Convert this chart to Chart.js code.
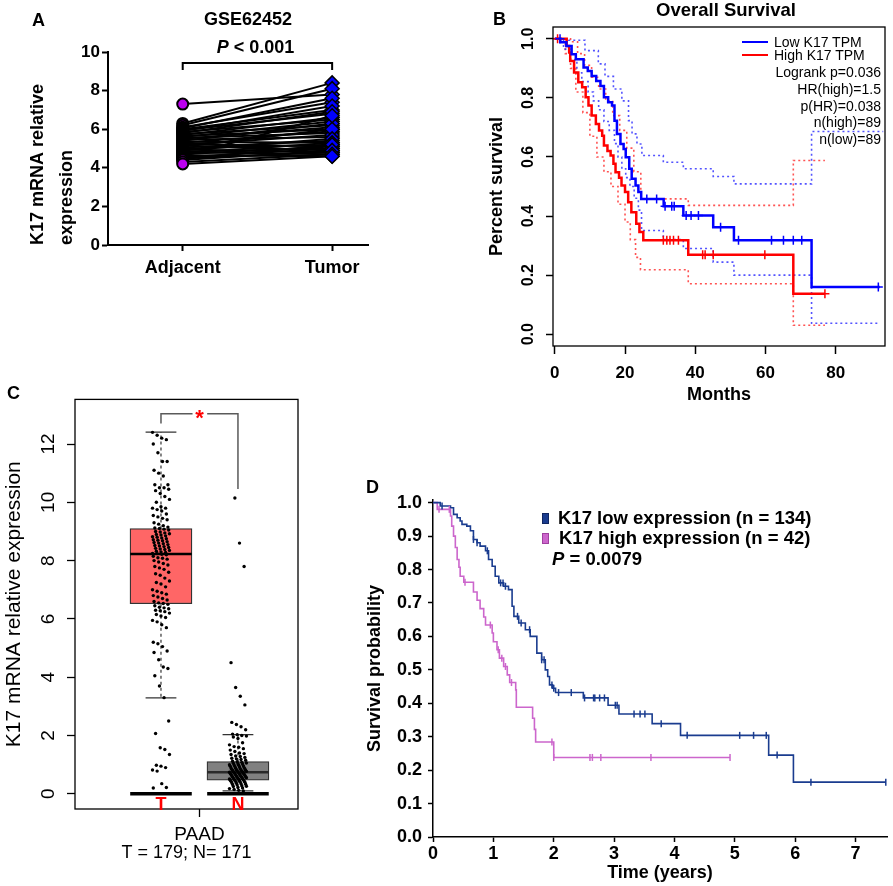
<!DOCTYPE html>
<html>
<head>
<meta charset="utf-8">
<title>K17 expression and survival</title>
<script src="https://cdn.jsdelivr.net/npm/chart.js@4.4.1/dist/chart.umd.min.js"></script>
<style>
  html, body { margin: 0; padding: 0; background: #fff; }
  #fig { position: relative; width: 893px; height: 886px; overflow: hidden; font-family: 'Liberation Sans', Arial, sans-serif; color: #000; }
  #fig canvas { position: absolute; }
  .t { position: absolute; white-space: pre; line-height: 1; }
  .b { font-weight: bold; }
  .sw { position: absolute; }
</style>
</head>
<body>
<div id="fig">
  <canvas id="chartA" width="380" height="290" style="left:0px;top:0px"></canvas>
  <canvas id="chartB" width="423" height="420" style="left:470px;top:0px"></canvas>
  <canvas id="chartC" width="310" height="506" style="left:0px;top:380px"></canvas>
  <canvas id="chartD" width="553" height="416" style="left:340px;top:470px"></canvas>

  <div class="t b" style="left:32px;top:11px;font-size:18px">A</div>
  <div class="t b" style="left:148px;top:10px;width:200px;text-align:center;font-size:18px">GSE62452</div>

  <div class="t b" style="left:493px;top:10px;font-size:18px">B</div>
  <div class="t b" style="left:626px;top:1px;width:200px;text-align:center;font-size:18.5px">Overall Survival</div>
  <div class="sw" style="left:742px;top:41px;width:26px;height:2px;background:#0000ff"></div>
  <div class="sw" style="left:742px;top:54px;width:26px;height:2px;background:#ff0000"></div>
  <div class="t" style="left:774px;top:35px;font-size:14px">Low K17 TPM</div>
  <div class="t" style="left:774px;top:48px;font-size:14px">High K17 TPM</div>
  <div class="t" style="right:12px;top:65px;font-size:14px">Logrank p=0.036</div>
  <div class="t" style="right:12px;top:82px;font-size:14px">HR(high)=1.5</div>
  <div class="t" style="right:12px;top:99px;font-size:14px">p(HR)=0.038</div>
  <div class="t" style="right:12px;top:115px;font-size:14px">n(high)=89</div>
  <div class="t" style="right:12px;top:132px;font-size:14px">n(low)=89</div>

  <div class="t b" style="left:7px;top:384px;font-size:18px">C</div>

  <div class="t b" style="left:366px;top:478px;font-size:18px">D</div>
  <div class="sw" style="left:542px;top:513px;width:5px;height:9px;background:#1a3c8f;border:1px solid #0f2560"></div>
  <div class="sw" style="left:542px;top:533px;width:5px;height:9px;background:#cc66cc;border:1px solid #a040a0"></div>
  <div class="t b" style="left:558px;top:509px;font-size:18.5px">K17 low expression (n = 134)</div>
  <div class="t b" style="left:559px;top:529px;font-size:18.5px">K17 high expression (n = 42)</div>
  <div class="t b" style="left:552px;top:550px;font-size:18.5px"><i>P</i> = 0.0079</div>
</div>

<script>
// ---------- Panel A: GSE62452 paired samples ----------
const groupsA = ['Adjacent', 'Tumor'];
const adjacentA = [7.3, 6.3, 6.2, 6.1, 6.05, 6.0, 5.95, 5.9, 5.85, 5.8, 5.75, 5.7, 5.65, 5.6, 5.55, 5.5, 5.45, 5.4, 5.35, 5.3,
                   5.25, 5.2, 5.15, 5.1, 5.05, 5.0, 4.95, 4.9, 4.85, 4.8, 4.75, 4.7, 4.65, 4.6, 4.55, 4.5, 4.45, 4.4, 4.3, 4.2];
const tumorA = [7.8, 8.4, 8.1, 7.4, 7.6, 7.0, 6.8, 7.2, 6.5, 6.9, 6.2, 6.6, 6.0, 6.4, 5.8, 6.1, 5.6, 6.3, 5.3, 5.9,
                5.1, 5.7, 4.9, 6.0, 5.4, 5.2, 4.8, 5.5, 5.0, 4.7, 5.3, 5.1, 4.6, 6.7, 5.0, 4.8, 5.2, 4.9, 4.7, 4.6];
const yTicksA = [0, 2, 4, 6, 8, 10];

// ---------- Panel B: overall survival (months) ----------
const lowMonthsB = [0, 1.6, 3.3, 4.8, 6.0, 8.2, 9.4, 10.5, 11.8, 13, 14, 15.2, 16.3, 17, 17.7, 18.7, 19.6, 20.2, 21.2, 21.9, 23, 23.8, 24.6, 31, 36.6, 45.1, 51, 73.1, 92.5];
const lowSurvB = [1.0, 0.988, 0.976, 0.948, 0.931, 0.903, 0.891, 0.874, 0.857, 0.84, 0.802, 0.785, 0.774, 0.723, 0.678, 0.644, 0.627, 0.599, 0.56, 0.526, 0.503, 0.481, 0.458, 0.433, 0.402, 0.362, 0.318, 0.16, 0.16];
const highMonthsB = [0, 3.4, 4.1, 4.4, 5.5, 6.7, 7.8, 8.8, 9.6, 10.5, 11.7, 12.6, 13.5, 14, 15, 15.9, 16.7, 17.3, 18.3, 19, 20, 20.9, 21.8, 23.2, 24.1, 25.2, 38, 67.9, 76.9];
const highSurvB = [1.0, 0.976, 0.954, 0.925, 0.886, 0.853, 0.836, 0.802, 0.774, 0.74, 0.712, 0.69, 0.672, 0.639, 0.62, 0.605, 0.577, 0.548, 0.53, 0.503, 0.481, 0.447, 0.413, 0.374, 0.346, 0.318, 0.269, 0.137, 0.137];
const lowUpMonthsB = [0, 3.9, 8.6, 12.4, 14.3, 16.7, 19.1, 21, 22, 23.4, 24.8, 30.9, 36.6, 45.1, 51, 73.1, 93.5];
const lowUpSurvB = [1.0, 0.995, 0.96, 0.915, 0.873, 0.83, 0.79, 0.723, 0.678, 0.644, 0.605, 0.582, 0.56, 0.534, 0.509, 0.686, 0.686];
const lowLoMonthsB = [0, 2.5, 4.4, 6.3, 7.7, 9.5, 11, 12.5, 14, 15.5, 17, 18, 19.1, 20.2, 21.4, 22.6, 23.8, 24.7, 30.9, 36.6, 45.1, 51, 73.1, 92.5];
const lowLoSurvB = [1.0, 0.965, 0.93, 0.885, 0.855, 0.82, 0.79, 0.76, 0.72, 0.69, 0.645, 0.6, 0.56, 0.53, 0.5, 0.46, 0.42, 0.351, 0.32, 0.29, 0.244, 0.2, 0.037, 0.037];
const highUpMonthsB = [0, 4.5, 6.5, 8.5, 10.5, 12.5, 14.5, 16.5, 18.5, 20.5, 22.5, 24.5, 38, 67.9, 76.9];
const highUpSurvB = [1.0, 0.99, 0.95, 0.91, 0.87, 0.83, 0.79, 0.74, 0.69, 0.63, 0.55, 0.458, 0.436, 0.588, 0.588];
const highLoMonthsB = [0, 3, 4.5, 6, 8, 10, 12, 14, 16, 18, 20, 21.5, 23, 24.4, 38, 67.9, 76.9];
const highLoSurvB = [1.0, 0.95, 0.9, 0.82, 0.75, 0.67, 0.6, 0.55, 0.5, 0.44, 0.38, 0.32, 0.26, 0.218, 0.171, 0.03, 0.03];
const lowCensorB = [1.5, 26.2, 29.0, 31.4, 33.3, 34.0, 37.4, 38.8, 40.9, 47.2, 52.3, 61.7, 65.1, 67.9, 70.3, 92.1];
const highCensorB = [0.8, 30.9, 31.9, 32.8, 33.8, 35.2, 42.1, 42.8, 45.1, 59.8, 76.9];
const monthTicksB = [0, 20, 40, 60, 80];
const survTicksB = [0, 0.2, 0.4, 0.6, 0.8, 1.0];

// ---------- Panel C: GEPIA box plot (PAAD) ----------
const tissueC = 'PAAD';
const groupsC = ['T', 'N'];
const countsC = [179, 171];
const q1C = [6.52, 0.47];
const medianC = [8.23, 0.74];
const q3C = [9.1, 1.11];
const whiskLoC = [3.29, 0.1];
const whiskHiC = [12.41, 2.03];
const tumorC = [12.4, 12.3, 12.2, 12.15, 12.0, 11.7, 11.4, 11.4, 11.1, 11.0, 10.9, 10.6, 10.6, 10.5, 10.5, 10.45, 10.4, 10.3, 10.2, 10.1,
  10.0, 9.85, 9.8, 9.8, 9.75, 9.7, 9.6, 9.55, 9.5, 9.45, 9.4, 9.3, 9.25, 9.2, 9.15, 9.12,
  9.1, 9.08, 9.05, 9.0, 8.98, 8.95, 8.92, 8.9, 8.88, 8.85, 8.82, 8.8, 8.78, 8.75, 8.72, 8.7, 8.68, 8.65, 8.62, 8.6,
  8.58, 8.55, 8.52, 8.5, 8.48, 8.45, 8.42, 8.4, 8.38, 8.35, 8.32, 8.3, 8.28, 8.25, 8.24,
  8.22, 8.2, 8.15, 8.1, 8.08, 8.05, 8.0, 7.95, 7.9, 7.85, 7.8, 7.75, 7.7, 7.6, 7.55, 7.5, 7.4, 7.3, 7.25, 7.2,
  7.1, 7.0, 6.95, 6.9, 6.85, 6.8, 6.75, 6.7, 6.65, 6.6, 6.55, 6.53,
  6.5, 6.45, 6.4, 6.38, 6.35, 6.3, 6.28, 6.25, 6.2, 6.15, 6.1, 6.05, 5.95, 5.9, 5.8, 5.7, 5.2, 5.15, 5.05, 4.9,
  4.85, 4.6, 4.35, 4.3, 4.05, 3.7, 3.3,
  2.5, 2.07, 1.58, 1.52, 1.35, 0.98, 0.95, 0.9, 0.82, 0.78, 0.35, 0.22, 0.2];
const normalC = [10.15, 8.6, 7.8, 4.5, 3.65, 3.35, 3.05, 2.45, 2.38, 2.3, 2.2, 2.05, 2.03, 2.0, 1.98, 1.95, 1.9, 1.75, 1.68, 1.62,
  1.6, 1.55, 1.5, 1.45, 1.4, 1.38, 1.35, 1.3, 1.28, 1.25, 1.22, 1.2, 1.18, 1.15, 1.12, 1.1, 1.08, 1.06, 1.05, 1.03,
  1.02, 1.0, 0.99, 0.98, 0.96, 0.95, 0.94, 0.92, 0.9, 0.89, 0.88, 0.86, 0.85, 0.84, 0.83, 0.82, 0.81, 0.8, 0.79, 0.78,
  0.77, 0.76, 0.75, 0.74, 0.74, 0.73, 0.72, 0.71, 0.7, 0.69, 0.68, 0.67, 0.66, 0.65, 0.64, 0.63, 0.62, 0.61, 0.6, 0.59,
  0.58, 0.57, 0.56, 0.55, 0.54, 0.53, 0.52, 0.51, 0.5, 0.49, 0.48, 0.47, 0.46, 0.45, 0.44, 0.43, 0.42, 0.41, 0.4, 0.38,
  0.36, 0.35, 0.33, 0.32, 0.3, 0.28, 0.26, 0.25, 0.22, 0.2, 0.18, 0.15, 0.12, 0.1];
const yTicksC = [0, 2, 4, 6, 8, 10, 12];

// ---------- Panel D: survival (years) ----------
const lowYearsD = [0, 0.12, 0.29, 0.34, 0.4, 0.45, 0.48, 0.56, 0.62, 0.67, 0.73, 0.78, 0.87, 0.92, 0.98, 1.03, 1.09, 1.17, 1.25, 1.31,
  1.34, 1.42, 1.53, 1.61, 1.72, 1.8, 1.86, 1.9, 1.93, 1.98, 2.03, 2.49, 2.9, 3.08, 3.63, 4.1, 5.56, 5.97, 7.5];
const lowSurvD = [1.0, 0.99, 0.985, 0.965, 0.955, 0.945, 0.935, 0.93, 0.916, 0.89, 0.88, 0.87, 0.856, 0.83, 0.81, 0.78, 0.76, 0.75, 0.74, 0.69,
  0.66, 0.64, 0.62, 0.6, 0.55, 0.53, 0.5, 0.48, 0.455, 0.445, 0.432, 0.416, 0.394, 0.368, 0.339, 0.304, 0.245, 0.164, 0.164];
const highYearsD = [0, 0.07, 0.29, 0.31, 0.34, 0.37, 0.4, 0.43, 0.45, 0.51, 0.67, 0.73, 0.78, 0.84, 0.87, 0.98, 1.0, 1.06, 1.1, 1.17,
  1.23, 1.27, 1.37, 1.38, 1.65, 1.68, 1.7, 2.0, 4.92];
const highSurvD = [1.0, 0.98, 0.96, 0.93, 0.9, 0.866, 0.83, 0.807, 0.78, 0.762, 0.733, 0.708, 0.683, 0.658, 0.634, 0.61, 0.584, 0.56, 0.535, 0.51,
  0.485, 0.462, 0.44, 0.388, 0.355, 0.322, 0.284, 0.238, 0.238];
const lowCensorD = [0.15, 0.67, 0.73, 0.9, 1.12, 1.16, 1.2, 1.4, 1.46, 1.6, 1.8, 1.84, 1.97, 2.0, 2.08, 2.29, 2.51, 2.66, 2.68, 2.76,
  2.84, 3.02, 3.05, 3.33, 3.43, 3.51, 3.78, 4.21, 5.08, 5.31, 5.52, 5.7, 6.26, 7.5];
const highCensorD = [0.1, 0.27, 0.53, 0.95, 1.08, 1.14, 1.2, 1.3, 1.97, 2.0, 2.6, 2.64, 2.78, 3.61, 4.92];
const yearTicksD = [0, 1, 2, 3, 4, 5, 6, 7];
const survTicksD = [0, 0.1, 0.2, 0.3, 0.4, 0.5, 0.6, 0.7, 0.8, 0.9, 1.0];

// ---------- helpers ----------
Chart.defaults.font.family = "'Liberation Sans', Arial, Helvetica, sans-serif";
Chart.defaults.color = '#000';

function tickList(values) {
  return scale => { scale.ticks = values.map(v => ({ value: v })); };
}
function steps(times, surv) {
  return times.map((t, i) => ({ x: t, y: surv[i] }));
}
function survAt(times, surv, t) {
  let v = surv[0];
  for (let i = 0; i < times.length; i++) {
    if (times[i] <= t) v = surv[i];
  }
  return v;
}
function jitter(i, w) {
  return ((((i * 29) % 23) / 22) - 0.5) * w;
}
const baseOptions = {
  responsive: false,
  animation: false,
  devicePixelRatio: 1,
  plugins: { legend: { display: false }, tooltip: { enabled: false } }
};

// ---------- Chart A ----------
const pairLines = adjacentA.map((a, i) => ({
  type: 'line',
  data: [{ x: 1, y: a }, { x: 2, y: tumorA[i] }],
  borderColor: '#000',
  borderWidth: 2,
  pointRadius: 0,
  order: 3
}));

const bracketA = {
  id: 'bracketA',
  afterDatasetsDraw(chart) {
    const { ctx, scales: { x, y } } = chart;
    const x1 = x.getPixelForValue(1), x2 = x.getPixelForValue(2);
    const yTop = y.getPixelForValue(9.43), yLow = y.getPixelForValue(9.07);
    ctx.save();
    ctx.strokeStyle = '#000';
    ctx.lineWidth = 2;
    ctx.beginPath();
    ctx.moveTo(x1, yLow); ctx.lineTo(x1, yTop); ctx.lineTo(x2, yTop); ctx.lineTo(x2, yLow);
    ctx.stroke();
    const cy = y.getPixelForValue(10.2);
    ctx.fillStyle = '#000';
    ctx.textBaseline = 'middle';
    ctx.font = "italic bold 18px 'Liberation Sans', Arial, sans-serif";
    const wP = ctx.measureText('P').width;
    ctx.font = "bold 18px 'Liberation Sans', Arial, sans-serif";
    const rest = ' < 0.001';
    const wR = ctx.measureText(rest).width;
    const start = (x1 + x2) / 2 - 2 - (wP + wR) / 2;
    ctx.textAlign = 'left';
    ctx.font = "italic bold 18px 'Liberation Sans', Arial, sans-serif";
    ctx.fillText('P', start, cy);
    ctx.font = "bold 18px 'Liberation Sans', Arial, sans-serif";
    ctx.fillText(rest, start + wP, cy);
    ctx.restore();
  }
};

new Chart(document.getElementById('chartA'), {
  type: 'scatter',
  data: {
    datasets: [
      {
        label: groupsA[0],
        data: adjacentA.map(v => ({ x: 1, y: v })),
        pointStyle: 'circle',
        pointRadius: 5.5,
        pointBackgroundColor: '#bb00ee',
        pointBorderColor: '#000',
        pointBorderWidth: 2,
        clip: false,
        order: 1
      },
      {
        label: groupsA[1],
        data: tumorA.map(v => ({ x: 2, y: v })),
        pointStyle: 'rectRot',
        pointRadius: 7,
        pointBackgroundColor: '#0000ff',
        pointBorderColor: '#000',
        pointBorderWidth: 1.5,
        clip: false,
        order: 1
      },
      ...pairLines
    ]
  },
  options: {
    ...baseOptions,
    layout: { padding: { left: 0, top: 52, right: 12, bottom: 0 } },
    scales: {
      x: {
        type: 'linear', min: 0.5, max: 2.24,
        afterBuildTicks: tickList([1, 2]),
        afterFit: s => { s.height = 45; },
        border: { display: true, color: '#000', width: 2 },
        grid: { display: true, drawOnChartArea: false, tickLength: 6, tickWidth: 2, tickColor: '#000' },
        ticks: { callback: v => groupsA[v - 1], font: { size: 18, weight: 'bold' }, padding: 6, maxRotation: 0, autoSkip: false }
      },
      y: {
        min: 0, max: 10,
        afterBuildTicks: tickList(yTicksA),
        afterFit: s => { s.width = 108; },
        border: { display: true, color: '#000', width: 2 },
        grid: { display: true, drawOnChartArea: false, tickLength: 6, tickWidth: 2, tickColor: '#000' },
        ticks: { font: { size: 17, weight: 'bold' }, padding: 2 },
        title: {
          display: true, text: ['K17 mRNA relative', 'expression'], align: 'start',
          font: { size: 18, weight: 'bold', lineHeight: 1.6 }, padding: { top: 24, bottom: 0 }
        }
      }
    }
  },
  plugins: [bracketA]
});

// ---------- Chart B ----------
const frame = {
  id: 'frame',
  afterDraw(chart) {
    const { ctx, chartArea: a } = chart;
    ctx.save();
    ctx.strokeStyle = '#000';
    ctx.lineWidth = 1.3;
    ctx.strokeRect(a.left, a.top, a.right - a.left, a.bottom - a.top);
    ctx.restore();
  }
};

function kmLine(times, surv, color, width, dash, order) {
  return {
    data: steps(times, surv), showLine: true, stepped: 'before',
    borderColor: color, borderWidth: width, borderDash: dash || [], pointRadius: 0, order
  };
}
function censorMarks(times, surv, cens, color, style, radius) {
  return {
    data: cens.map(t => ({ x: t, y: survAt(times, surv, t) })),
    showLine: false, pointStyle: style, pointRotation: style === 'line' ? 90 : 0, pointRadius: radius,
    pointBorderColor: color, pointBackgroundColor: color, pointBorderWidth: 1.5, order: 0, clip: false
  };
}

new Chart(document.getElementById('chartB'), {
  type: 'scatter',
  data: {
    datasets: [
      kmLine(lowUpMonthsB, lowUpSurvB, 'rgba(40,40,255,0.8)', 1.6, [2, 3], 2),
      kmLine(lowLoMonthsB, lowLoSurvB, 'rgba(40,40,255,0.8)', 1.6, [2, 3], 2),
      kmLine(highUpMonthsB, highUpSurvB, 'rgba(255,40,40,0.8)', 1.6, [2, 3], 2),
      kmLine(highLoMonthsB, highLoSurvB, 'rgba(255,40,40,0.8)', 1.6, [2, 3], 2),
      kmLine(lowMonthsB, lowSurvB, '#0000ff', 2.5, null, 1),
      kmLine(highMonthsB, highSurvB, '#ff0000', 2.5, null, 1),
      censorMarks(lowMonthsB, lowSurvB, lowCensorB, '#0000ff', 'cross', 4.5),
      censorMarks(highMonthsB, highSurvB, highCensorB, '#ff0000', 'cross', 4.5)
    ]
  },
  options: {
    ...baseOptions,
    layout: { padding: { left: 0, top: 27, right: 8, bottom: 0 } },
    scales: {
      x: {
        type: 'linear', min: -0.5, max: 94,
        afterBuildTicks: tickList(monthTicksB),
        afterFit: s => { s.height = 74; },
        border: { display: false },
        grid: { display: true, drawOnChartArea: false, tickLength: 8, tickWidth: 1.5, tickColor: '#000' },
        ticks: { font: { size: 17, weight: 'bold' }, padding: 9, maxRotation: 0, autoSkip: false },
        title: { display: true, text: 'Months', font: { size: 18, weight: 'bold' }, padding: { top: 0, bottom: 14 } }
      },
      y: {
        min: -0.04, max: 1.04,
        afterBuildTicks: tickList(survTicksB),
        afterFit: s => { s.width = 83; },
        border: { display: false },
        grid: { display: true, drawOnChartArea: false, tickLength: 7, tickWidth: 1.5, tickColor: '#000' },
        ticks: { font: { size: 16, weight: 'bold' }, padding: 6, minRotation: 90, maxRotation: 90, crossAlign: 'center', callback: v => v.toFixed(1) },
        title: { display: true, text: 'Percent survival', font: { size: 18, weight: 'bold' }, padding: { top: 16, bottom: 0 } }
      }
    }
  },
  plugins: [frame]
});

// ---------- Chart C ----------
const boxMarksC = {
  id: 'boxMarksC',
  afterDraw(chart) {
    const { ctx, scales: { x, y } } = chart;
    ctx.save();
    // significance bracket
    ctx.strokeStyle = '#5a5a5a';
    ctx.lineWidth = 1.5;
    const yb = y.getPixelForValue(13.04);
    ctx.beginPath();
    ctx.moveTo(x.getPixelForValue(1), y.getPixelForValue(12.7));
    ctx.lineTo(x.getPixelForValue(1), yb);
    ctx.lineTo(x.getPixelForValue(1.41), yb);
    ctx.moveTo(x.getPixelForValue(1.6), yb);
    ctx.lineTo(x.getPixelForValue(2), yb);
    ctx.lineTo(x.getPixelForValue(2), y.getPixelForValue(10.46));
    ctx.stroke();
    ctx.fillStyle = '#ff0000';
    ctx.textAlign = 'center';
    ctx.textBaseline = 'middle';
    ctx.font = "bold 22px 'Liberation Sans', Arial, sans-serif";
    ctx.fillText('*', x.getPixelForValue(1.5), yb + 5);
    // group letters
    ctx.font = "bold 18px 'Liberation Sans', Arial, sans-serif";
    groupsC.forEach((g, i) => ctx.fillText(g, x.getPixelForValue(i + 1), y.getPixelForValue(-0.37)));
    ctx.restore();
  }
};

function segment(x1, x2, y1, y2, color, width, dash, order) {
  return {
    type: 'line', data: [{ x: x1, y: y1 }, { x: x2, y: y2 }],
    borderColor: color, borderWidth: width, borderDash: dash || [], pointRadius: 0, order
  };
}

const segmentsC = [];
groupsC.forEach((g, i) => {
  const cx = i + 1;
  segmentsC.push(segment(cx, cx, q3C[i], whiskHiC[i], '#333', 1.2, [3, 3], 4));
  segmentsC.push(segment(cx, cx, q1C[i], whiskLoC[i], '#333', 1.2, [3, 3], 4));
  segmentsC.push(segment(cx - 0.2, cx + 0.2, whiskHiC[i], whiskHiC[i], '#333', 1.3, null, 4));
  segmentsC.push(segment(cx - 0.2, cx + 0.2, whiskLoC[i], whiskLoC[i], '#333', 1.3, null, 4));
  segmentsC.push(segment(cx - 0.4, cx + 0.4, medianC[i], medianC[i], i === 0 ? '#000' : '#2a2a2a', 2.5, null, 3));
  segmentsC.push(segment(cx - 0.4, cx + 0.4, 0, 0, '#000', 3.5, null, 2));
});

new Chart(document.getElementById('chartC'), {
  type: 'bar',
  data: {
    datasets: [
      {
        type: 'scatter',
        data: tumorC.map((v, i) => ({ x: 1 + jitter(i, 0.22), y: v })),
        pointRadius: 1.7, pointBackgroundColor: '#000', pointBorderWidth: 0, order: 1
      },
      {
        type: 'scatter',
        data: normalC.map((v, i) => ({ x: 2 + jitter(i + 5, 0.22), y: v })),
        pointRadius: 1.7, pointBackgroundColor: '#000', pointBorderWidth: 0, order: 1
      },
      ...segmentsC,
      {
        type: 'bar',
        data: groupsC.map((g, i) => ({ x: i + 1, y: [q1C[i], q3C[i]] })),
        backgroundColor: ['#ff6666', '#808080'],
        borderColor: '#333',
        borderWidth: 1.3,
        borderSkipped: false,
        barThickness: 62,
        order: 6
      }
    ]
  },
  options: {
    ...baseOptions,
    layout: { padding: { left: 0, top: 13, right: 12, bottom: 0 } },
    scales: {
      x: {
        type: 'linear', min: -0.117, max: 2.78, offset: false,
        afterBuildTicks: tickList([1.5]),
        afterFit: s => { s.height = 77; },
        border: { display: false },
        grid: { display: true, offset: false, drawOnChartArea: false, tickLength: 8, tickWidth: 1.3, tickColor: '#000' },
        ticks: { callback: () => tissueC, font: { size: 19 }, padding: 6, maxRotation: 0 },
        title: { display: true, text: `T = ${countsC[0]}; N= ${countsC[1]}`, font: { size: 18 }, padding: { top: 0, bottom: 22 } }
      },
      y: {
        min: -0.52, max: 13.53,
        afterBuildTicks: tickList(yTicksC),
        afterFit: s => { s.width = 75; },
        border: { display: false },
        grid: { display: true, drawOnChartArea: false, tickLength: 8, tickWidth: 1.3, tickColor: '#000' },
        ticks: { font: { size: 19 }, padding: 8, minRotation: 90, maxRotation: 90, crossAlign: 'center' },
        title: { display: true, text: 'K17 mRNA relative expression', font: { size: 21 }, padding: { top: 2, bottom: 0 } }
      }
    }
  },
  plugins: [frame, boxMarksC]
});

// ---------- Chart D ----------
new Chart(document.getElementById('chartD'), {
  type: 'scatter',
  data: {
    datasets: [
      kmLine(lowYearsD, lowSurvD, '#1a3c8f', 1.6, null, 1),
      kmLine(highYearsD, highSurvD, '#cc66cc', 1.6, null, 1),
      censorMarks(lowYearsD, lowSurvD, lowCensorD, '#1a3c8f', 'line', 3.5),
      censorMarks(highYearsD, highSurvD, highCensorD, '#cc66cc', 'line', 3.5)
    ]
  },
  options: {
    ...baseOptions,
    layout: { padding: { left: 0, top: 30, right: 6, bottom: 0 } },
    scales: {
      x: {
        type: 'linear', min: 0, max: 7.52,
        afterBuildTicks: tickList(yearTicksD),
        afterFit: s => { s.height = 49; },
        border: { display: true, color: '#000', width: 1.5 },
        grid: { display: true, drawOnChartArea: false, tickLength: 5, tickWidth: 1.5, tickColor: '#000' },
        ticks: { font: { size: 18, weight: 'bold' }, padding: 1, maxRotation: 0, autoSkip: false },
        title: { display: true, text: 'Time (years)', font: { size: 18, weight: 'bold' }, padding: { top: 0, bottom: 2 } }
      },
      y: {
        min: 0, max: 1.008,
        afterBuildTicks: tickList(survTicksD),
        afterFit: s => { s.width = 93; },
        border: { display: true, color: '#000', width: 1.5 },
        grid: { display: true, drawOnChartArea: false, tickLength: 5, tickWidth: 1.5, tickColor: '#000' },
        ticks: { font: { size: 18, weight: 'bold' }, padding: 6, callback: v => v.toFixed(1) },
        title: { display: true, text: 'Survival probability', font: { size: 18, weight: 'bold' }, padding: { top: 24, bottom: 0 } }
      }
    }
  }
});
</script>
</body>
</html>
